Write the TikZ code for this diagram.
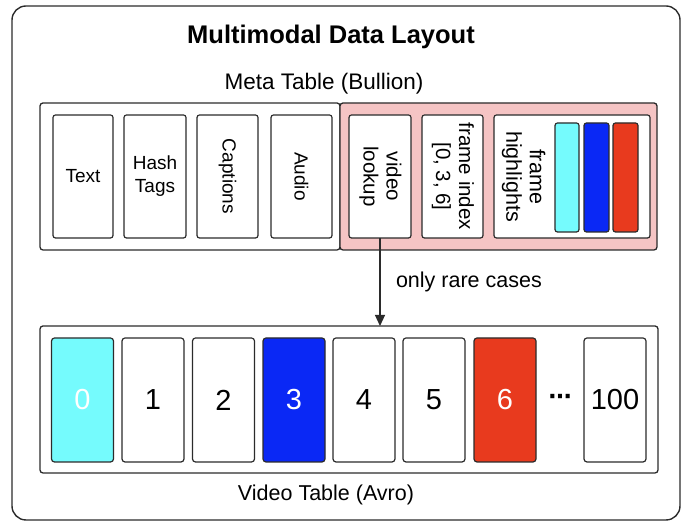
\documentclass[tikz,border=0pt]{standalone}
\usepackage{fontspec}
\setmainfont{Liberation Sans}
\newfontfamily\dejavu{DejaVu Sans}
\usetikzlibrary{arrows.meta}
\definecolor{cellcyan}{HTML}{75FBFD}
\definecolor{cellblue}{HTML}{0A28F5}
\definecolor{cellred}{HTML}{E83A1E}
\definecolor{pinkbg}{HTML}{F5C4C4}
\definecolor{edge}{HTML}{2B2B2B}
\begin{document}
\begin{tikzpicture}[x=1pt,y=1pt,
  every node/.style={inner sep=0pt, outer sep=0pt},
  tablebox/.style={draw=edge, line width=1.3pt, rounded corners=3pt, rectangle, minimum height=147pt},
  cellbox/.style={draw=edge, line width=1.2pt, rounded corners=2.5pt, fill=white, rectangle, minimum height=123pt, align=center, font=\fontsize{19}{23}\selectfont},
  pinklbl/.style={font=\fontsize{21.5}{24.5}\selectfont},
  framebox/.style={draw=edge, line width=1.2pt, rounded corners=3pt, fill=white, rectangle, minimum width=62pt, minimum height=124pt, font=\fontsize{29}{33}\selectfont},
  barbox/.style={draw=edge, line width=1.2pt, rounded corners=2.5pt, rectangle, minimum height=109pt},
  lbl/.style={font=\fontsize{21.5}{25}\selectfont}
]
\useasboundingbox (0,0) rectangle (681,521);
% outer frame
\draw[edge, line width=1.4pt, rounded corners=14pt] (12,1) rectangle (680,515);
\node[font=\bfseries\fontsize{25.5}{30}\selectfont] (title) at (331,484) {Multimodal Data Layout};
\node[font=\fontsize{22.5}{26}\selectfont] (metalbl) at (324,437) {Meta Table (Bullion)};
% meta table
\node[tablebox, minimum width=300pt] (metaL) at (190,344.5) {};
\node[tablebox, minimum width=317pt, fill=pinkbg] (metaR) at (498.5,344.5) {};
\node[cellbox, minimum width=60pt] (text) at (83,344.5) {Text};
\node[cellbox, minimum width=62pt] (hash) at (155,344.5) {Hash\\Tags};
\node[cellbox, minimum width=61pt] (capt) at (227.5,344.5) {\rotatebox{-90}{Captions}};
\node[cellbox, minimum width=61pt] (audio) at (301.5,344.5) {\rotatebox{-90}{Audio}};
\node[cellbox, minimum width=62pt] (vl) at (380,344.5) {\rotatebox{-90}{\fontsize{20.5}{24}\selectfont\begin{tabular}{@{}c@{}}video\\[-1pt]lookup\end{tabular}}};
\node[cellbox, minimum width=61pt] (fi) at (452.5,344.5) {\rotatebox{-90}{\fontsize{20.5}{24}\selectfont\begin{tabular}{@{}c@{}}frame index\\[-1pt][0, 3, 6]\end{tabular}}};
\node[cellbox, minimum width=156pt] (fh) at (572,344.5) {};
\node[pinklbl] (fhlbl) at (523,344.5) {\rotatebox{-90}{\begin{tabular}{@{}c@{}}frame\\[-1pt]highlights\end{tabular}}};
\node[barbox, minimum width=24pt, fill=cellcyan] (b0) at (567,343.5) {};
\node[barbox, minimum width=25pt, fill=cellblue] (b3) at (596.5,343.5) {};
\node[barbox, minimum width=25pt, fill=cellred] (b6) at (625.5,343.5) {};
% video table
\node[tablebox, minimum width=618pt] (vt) at (349,121.5) {};
\node[framebox, fill=cellcyan, text=white] (f0) at (82.5,121) {0};
\node[framebox] (f1) at (153,121) {1};
\node[framebox] (f2) at (223.5,121) {2};
\node[framebox, fill=cellblue, text=white] (f3) at (294,121) {3};
\node[framebox] (f4) at (364,121) {4};
\node[framebox] (f5) at (434,121) {5};
\node[framebox, fill=cellred, text=white] (f6) at (505,121) {6};
\node[font=\dejavu\bfseries\fontsize{23}{26}\selectfont] (dots) at (560,122) {⋯};
\node[framebox] (f100) at (615,121) {100};
\node[lbl] (vtlbl) at (326,26) {Video Table (Avro)};
% arrow
\draw[edge, line width=1.2pt, -{Triangle[length=11pt,width=10pt]}] (vl.south) -- (vl.south |- vt.north);
\node[lbl, anchor=west] (rare) at (396,239) {only rare cases};
\end{tikzpicture}
\end{document}
